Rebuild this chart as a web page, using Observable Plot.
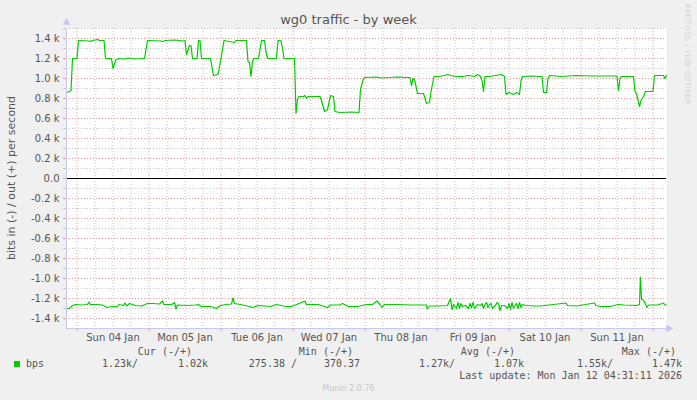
<!DOCTYPE html>
<html>
<head>
<meta charset="utf-8">
<script src="https://cdn.jsdelivr.net/npm/d3@7"></script>
<script src="https://cdn.jsdelivr.net/npm/@observablehq/plot@0.6"></script>
<style>
  html, body { margin: 0; padding: 0; background: #f0f0f0; }
  #wrap { position: relative; width: 697px; height: 400px; overflow: hidden; font-family: "DejaVu Sans", sans-serif; color: #555; }
  #wrap svg { position: absolute; left: 0; top: 0; }
  .t { position: absolute; white-space: pre; }
  .mono { font-family: "DejaVu Sans Mono", monospace; font-size: 10px; color: #555; }
</style>
</head>
<body>
<div id="wrap"></div>
<script>
// ---- data (hours after 2026-01-03 20:30 UTC, bits per second) ----
const title = "wg0 traffic - by week";
const yLabel = "bits in (-) / out (+) per second";
const seriesName = "bps";
const startISO = "2026-01-03T20:30:00Z";
const endISO = "2026-01-12T04:30:00Z";

const outHours = [0,1,1.5,2,3.5,4,7.5,8,8.5,10.5,11,12.5,13,15,15.5,16.5,17.5,19,21,23,25,26,27,31.5,32,33,36,39,39.5,40,41,41.5,42,43.5,44,44.5,45,48,49,50.5,51.5,52.5,56,56.5,60,60.5,61,61.5,62,62.5,64,65,66,66.5,67,70,70.5,71.5,72,72.5,76,76.5,77,77.5,79,79.5,80,80.5,84.5,85,86,87,88,89,89.5,91,95,97.5,98,99,99.5,103,105,108,110,114,114.5,115,115.5,116,117,118,119,120,121,121.5,122.5,124,126,127,128,130,132,134,136,137,138,138.5,139,139.5,141,145,146,146.5,147.5,149,150,151,151.5,152,155,158,158.5,159,160,160.5,161,165,170,175,180,183.5,184,184.5,185,189,189.5,190,191,191.5,192.5,193,195,195.5,196,199,199.5,200];
const outBps   = [860,870,880,1200,1200,1380,1375,1370,1380,1390,1380,1380,1200,1200,1100,1190,1200,1195,1205,1195,1200,1200,1380,1375,1370,1380,1385,1375,1380,1240,1330,1330,1200,1200,1380,1380,1200,1200,1030,1040,1200,1380,1360,1380,1380,1170,1160,1020,1170,1200,1200,1380,1380,1270,1200,1200,1380,1380,1300,1200,1200,650,790,820,820,830,800,820,820,780,670,690,830,820,670,660,665,660,890,1000,1010,1015,1005,1010,1015,1010,1010,930,1000,990,850,850,850,750,760,870,1020,1020,1030,1040,1030,1020,1020,1030,1020,1040,1020,980,870,1020,1020,1040,1020,840,860,840,860,840,980,1020,1025,1020,1020,860,860,1000,1030,1020,1030,1025,1025,1025,880,1000,1020,1020,870,850,720,780,830,870,870,870,1030,1030,1000,1030];

const inHours = [0,1,2,3,5,7,7.5,8,10,12,13.5,15,17,17.5,19,19.5,20,21,23,25,27,29,31,32,32.5,35,36,36.5,37,40,43,44,45,48,50,51,53,55,55.5,56,58,61,62,64,68,70,73,75,77.5,79.5,80,84,87,88,91,92,94,97,100,102,103.5,104.5,105.2,106,110,115,120,120.2,121,124,127,128,128.5,129,130,130.5,131,131.5,132,133,134,134.5,135,135.5,136,137,138,138.5,139,139.5,140,140.5,141,141.5,142,143,143.5,144,144.5,145,146,147,147.5,148,148.5,149,150,150.5,151,151.5,152,153,156,158,166.5,167,170,176,176.5,178,181,184,186,190,191,191.3,191.7,192.3,193.5,194,197,199,199.5,200];
const inBps   = [1300,1300,1270,1260,1265,1260,1235,1260,1260,1265,1290,1280,1280,1260,1270,1245,1275,1250,1270,1275,1250,1250,1255,1225,1260,1260,1240,1305,1265,1270,1265,1260,1280,1280,1300,1275,1260,1255,1195,1250,1260,1280,1290,1270,1280,1260,1280,1280,1250,1225,1260,1260,1290,1265,1265,1250,1280,1280,1260,1260,1225,1260,1290,1260,1260,1265,1265,1305,1275,1275,1270,1200,1310,1260,1300,1240,1300,1250,1280,1270,1300,1250,1290,1240,1300,1260,1270,1250,1300,1260,1240,1290,1260,1250,1300,1270,1240,1250,1320,1270,1270,1300,1250,1310,1240,1300,1250,1300,1240,1290,1260,1270,1275,1275,1245,1270,1275,1245,1270,1280,1280,1260,1265,1270,1260,985,1210,1215,1290,1265,1265,1245,1265,1265];

const yTicks = [-1400,-1200,-1000,-800,-600,-400,-200,0,200,400,600,800,1000,1200,1400];
const dayLabels = ["Sun 04 Jan","Mon 05 Jan","Tue 06 Jan","Wed 07 Jan","Thu 08 Jan","Fri 09 Jan","Sat 10 Jan","Sun 11 Jan"];
const dayNoonISO = ["2026-01-04T12:00Z","2026-01-05T12:00Z","2026-01-06T12:00Z","2026-01-07T12:00Z","2026-01-08T12:00Z","2026-01-09T12:00Z","2026-01-10T12:00Z","2026-01-11T12:00Z"];

const legendHeads = ["Cur (-/+)","Min (-/+)","Avg (-/+)","Max (-/+)"];
const legendIn  = ["1.23k/","275.38 /","1.27k/","1.55k/"];
const legendOut = ["1.02k","370.37","1.07k","1.47k"];
const lastUpdate = "Last update: Mon Jan 12 04:31:11 2026";
const footer = "Munin 2.0.76";
const sideText = "RRDTOOL / TOBI OETIKER";

// ---- build ----
const start = new Date(startISO), end = new Date(endISO);
const t = h => new Date(+start + h * 3600e3);
const outData = outHours.map((h, i) => ({date: t(h), v: outBps[i]}));
const inData = inHours.map((h, i) => ({date: t(h), v: -inBps[i]}));
const midnights = d3.utcDay.range(start, end);
const sixHours = d3.utcHour.every(6).range(start, end).filter(d => d.getUTCHours() !== 0);
const minorY = d3.range(-1500, 1501, 100).filter(v => v % 200 !== 0 && v > -1500);
const majorY = yTicks.filter(v => v !== 0);
const noons = dayNoonISO.map(s => new Date(s));
const fmtY = v => v === 0 ? "0.0" : (v / 1000).toFixed(1) + " k";
const axisColor = "#c8c8f0";
const green = "#00cc00";

const chart = Plot.plot({
  width: 697, height: 400,
  marginTop: 28, marginBottom: 72, marginLeft: 66, marginRight: 31,
  style: {background: "transparent", fontFamily: "DejaVu Sans", fontSize: "10px", color: "#555", overflow: "visible"},
  x: {type: "utc", domain: [start, end], label: null},
  y: {domain: [-1500, 1500], label: null},
  marks: [
    Plot.frame({fill: "white", stroke: null}),
    Plot.ruleX(sixHours, {stroke: "#c4c4c4", strokeDasharray: "1,2"}),
    Plot.ruleY(minorY, {stroke: "#c4c4c4", strokeDasharray: "1,2"}),
    Plot.ruleX(midnights, {stroke: "#f09a9a", strokeDasharray: "1,2"}),
    Plot.ruleY(majorY, {stroke: "#f09a9a", strokeDasharray: "1,2"}),
    Plot.ruleY([0], {stroke: "black", strokeWidth: 1.2}),
    Plot.line(outData, {x: "date", y: "v", stroke: green, strokeWidth: 1.2}),
    Plot.line(inData, {x: "date", y: "v", stroke: green, strokeWidth: 1.2}),
    Plot.ruleY([-1500], {stroke: axisColor}),
    Plot.ruleX([start], {stroke: axisColor}),
    Plot.dot([0], {frameAnchor: "top-left", symbol: "triangle", r: 3, fill: axisColor, stroke: null, dy: -6}),
    Plot.dot([0], {frameAnchor: "bottom-right", symbol: "triangle", r: 3, fill: axisColor, stroke: null, rotate: 90, dx: 2}),
    Plot.axisY({ticks: yTicks, tickFormat: fmtY, tickSize: 3, tickPadding: 4, stroke: "#f09a9a", fill: "#555", fontSize: 10, label: null}),
    Plot.axisY({ticks: minorY, tickFormat: () => "", tickSize: 3, stroke: "#c4c4c4", label: null}),
    Plot.axisX({ticks: midnights, tickFormat: () => "", tickSize: 3, stroke: "#f09a9a", label: null}),
    Plot.axisX({ticks: noons, tickFormat: (d, i) => dayLabels[i], tickSize: 0, tickPadding: 5, fill: "#555", fontSize: 10, label: null})
  ]
});

const wrap = document.getElementById("wrap");
wrap.appendChild(chart);

function addText(txt, css, cls) {
  const el = document.createElement("div");
  el.className = "t" + (cls ? " " + cls : "");
  el.textContent = txt;
  Object.assign(el.style, css);
  wrap.appendChild(el);
  return el;
}
addText(title, {left: "0", width: "697px", textAlign: "center", top: "12px", fontSize: "13px", color: "#555"});
addText(yLabel, {left: "11px", top: "178px", fontSize: "11px", color: "#555", transform: "translate(-50%,-50%) rotate(-90deg)"});
addText(sideText, {left: "687px", top: "54px", fontSize: "7.5px", letterSpacing: "0.2px", color: "#d4d4d4", transform: "translate(-50%,-50%) rotate(90deg)"});

const headRight = [192, 353, 515, 676];
const inRight = [138, 297, 455, 613];
const outRight = [208, 360, 524, 682];
legendHeads.forEach((h, i) => addText(h, {right: (697 - headRight[i]) + "px", top: "346px"}, "mono"));
legendIn.forEach((h, i) => addText(h, {right: (697 - inRight[i]) + "px", top: "358px"}, "mono"));
legendOut.forEach((h, i) => addText(h, {right: (697 - outRight[i]) + "px", top: "358px"}, "mono"));
addText("", {left: "14px", top: "361px", width: "6px", height: "6px", background: green});
addText(seriesName, {left: "26px", top: "358px"}, "mono");
addText(lastUpdate, {right: (697 - 682) + "px", top: "370px"}, "mono");
addText(footer, {left: "0", width: "697px", textAlign: "center", top: "384px", fontSize: "8px", color: "#c8c8c8"});
</script>
</body>
</html>
